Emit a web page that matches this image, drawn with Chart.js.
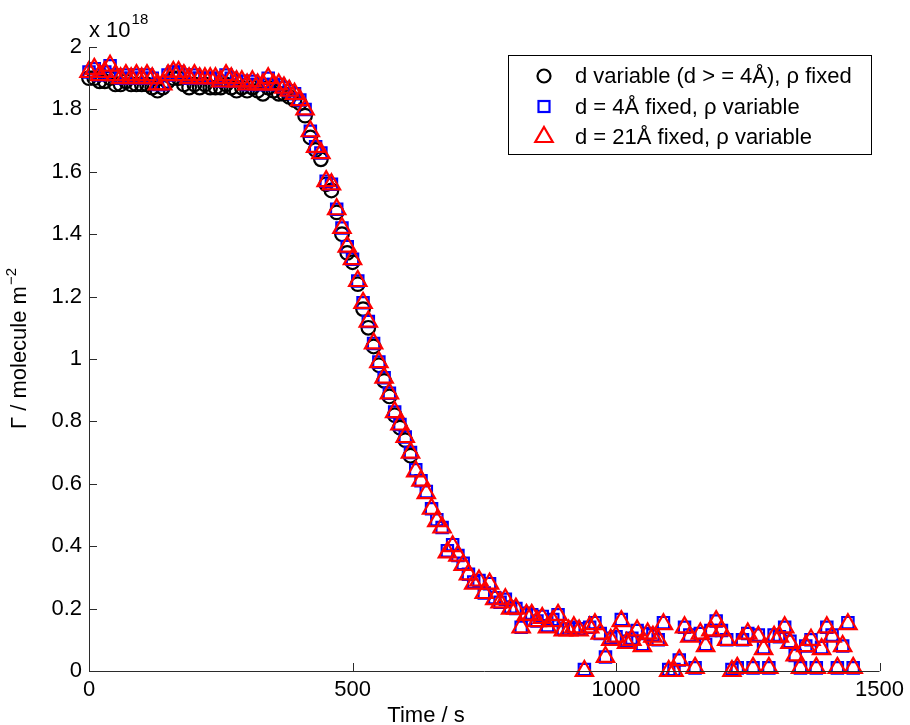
<!DOCTYPE html>
<html>
<head>
<meta charset="utf-8">
<script src="https://cdn.jsdelivr.net/npm/chart.js@4.4.1/dist/chart.umd.min.js"></script>
<style>
  html, body { margin: 0; padding: 0; background: #fff; }
  #wrap { width: 910px; height: 725px; }
</style>
</head>
<body>
<div id="wrap"><canvas id="gammaChart" width="910" height="725"></canvas></div>
<script>
// time axis (s), one sample every ~10 s
const times = [
  0, 10, 20, 30, 40, 50, 60, 70, 80, 90,
  100, 110, 120, 130, 140, 150, 160, 170, 180, 190,
  200, 210, 220, 230, 240, 250, 260, 270, 280, 290,
  300, 310, 320, 330, 340, 350, 360, 370, 380, 390,
  400, 410, 420, 430, 440, 450, 460, 470, 480, 490,
  500, 510, 520, 530, 540, 550, 560, 570, 580, 590,
  600, 610, 620, 630, 640, 650, 660, 670, 680, 690,
  700, 710, 720, 730, 740, 750, 760, 770, 780, 790,
  800, 810, 820, 830, 840, 850, 860, 870, 880, 890,
  900, 910, 920, 930, 940, 950, 960, 970, 980, 990,
  1000, 1010, 1020, 1030, 1040, 1050, 1060, 1070, 1080, 1090,
  1100, 1110, 1120, 1130, 1140, 1150, 1160, 1170, 1180, 1190,
  1200, 1210, 1220, 1230, 1240, 1250, 1260, 1270, 1280, 1290,
  1300, 1310, 1320, 1330, 1340, 1350, 1360, 1370, 1380, 1390,
  1400, 1410, 1420, 1430, 1440, 1450
];

// Gamma in units of 1e18 molecule m^-2
// d variable (d >= 4 A), rho fixed  -- only fitted up to ~610 s
const dVariable = [
  1.90, 1.90, 1.89, 1.89, 1.90, 1.88, 1.88, 1.89, 1.88, 1.88,
  1.88, 1.88, 1.87, 1.86, 1.87, 1.89, 1.90, 1.90, 1.88, 1.87,
  1.88, 1.87, 1.88, 1.87, 1.87, 1.87, 1.88, 1.87, 1.86, 1.87,
  1.86, 1.87, 1.86, 1.85, 1.87, 1.86, 1.85, 1.85, 1.84, 1.83,
  1.82, 1.78, 1.71, 1.67, 1.64, 1.56, 1.54, 1.47, 1.40, 1.34,
  1.31, 1.24, 1.16, 1.10, 1.04, 0.98, 0.93, 0.88, 0.82, 0.78,
  0.74, 0.69
];

// d = 4 A fixed, rho variable
const d4Fixed = [
  1.92, 1.93, 1.91, 1.92, 1.94, 1.91, 1.90, 1.91, 1.90, 1.91,
  1.90, 1.91, 1.90, 1.88, 1.88, 1.91, 1.92, 1.92, 1.91, 1.90,
  1.91, 1.90, 1.90, 1.90, 1.90, 1.89, 1.91, 1.90, 1.89, 1.89,
  1.88, 1.89, 1.88, 1.88, 1.90, 1.88, 1.88, 1.87, 1.86, 1.85,
  1.83, 1.80, 1.73, 1.68, 1.66, 1.57, 1.56, 1.48, 1.42, 1.36,
  1.32, 1.25, 1.18, 1.12, 1.05, 0.99, 0.94, 0.89, 0.83, 0.79,
  0.75, 0.70, 0.645, 0.61, 0.575, 0.52, 0.485, 0.46, 0.385, 0.405,
  0.37, 0.345, 0.31, 0.285, 0.29, 0.25, 0.28, 0.235, 0.22, 0.23,
  0.205, 0.20, 0.14, 0.185, 0.18, 0.16, 0.175, 0.145, 0.165, 0.18,
  0.135, 0.135, 0.14, 0.135, 0.005, 0.14, 0.155, 0.12, 0.045, 0.105,
  0.11, 0.165, 0.095, 0.105, 0.13, 0.085, 0.12, 0.115, 0.10, 0.155,
  0.005, 0.005, 0.035, 0.14, 0.115, 0.01, 0.12, 0.085, 0.13, 0.16,
  0.13, 0.10, 0.005, 0.01, 0.10, 0.12, 0.01, 0.115, 0.075, 0.01,
  0.115, 0.11, 0.14, 0.095, 0.05, 0.01, 0.08, 0.10, 0.01, 0.075,
  0.14, 0.115, 0.01, 0.08, 0.155, 0.01
];

// d = 21 A fixed, rho variable
const d21Fixed = [
  1.92, 1.93, 1.91, 1.92, 1.94, 1.91, 1.90, 1.91, 1.90, 1.91,
  1.90, 1.91, 1.90, 1.88, 1.88, 1.91, 1.92, 1.92, 1.91, 1.90,
  1.91, 1.90, 1.90, 1.90, 1.90, 1.89, 1.91, 1.90, 1.89, 1.89,
  1.88, 1.89, 1.88, 1.88, 1.90, 1.88, 1.88, 1.87, 1.86, 1.85,
  1.83, 1.80, 1.73, 1.68, 1.66, 1.57, 1.56, 1.48, 1.42, 1.36,
  1.32, 1.25, 1.18, 1.12, 1.05, 0.99, 0.94, 0.89, 0.83, 0.79,
  0.75, 0.70, 0.64, 0.61, 0.57, 0.52, 0.48, 0.46, 0.38, 0.40,
  0.37, 0.34, 0.31, 0.28, 0.29, 0.25, 0.28, 0.23, 0.22, 0.23,
  0.20, 0.20, 0.14, 0.18, 0.18, 0.16, 0.17, 0.14, 0.16, 0.18,
  0.13, 0.13, 0.14, 0.13, 0.00, 0.14, 0.15, 0.12, 0.045, 0.10,
  0.11, 0.16, 0.09, 0.10, 0.13, 0.08, 0.12, 0.11, 0.10, 0.15,
  0.00, 0.00, 0.035, 0.14, 0.11, 0.01, 0.12, 0.08, 0.13, 0.16,
  0.13, 0.10, 0.00, 0.01, 0.10, 0.12, 0.01, 0.11, 0.07, 0.01,
  0.11, 0.11, 0.14, 0.09, 0.05, 0.01, 0.08, 0.10, 0.01, 0.07,
  0.14, 0.11, 0.01, 0.08, 0.15, 0.01
];

const xTicks = [0, 500, 1000, 1500];
const yTicks = [0, 0.2, 0.4, 0.6, 0.8, 1, 1.2, 1.4, 1.6, 1.8, 2];
const seriesLabels = [
  'd variable (d > = 4Å), ρ fixed',
  'd = 4Å fixed, ρ variable',
  'd = 21Å fixed, ρ variable'
];

const FONT = '"Liberation Sans", Arial, Helvetica, sans-serif';

function toPoints(vals) {
  return vals.map((v, i) => ({ x: times[i], y: v }));
}

// MATLAB-ish axes: left + bottom spines, inward ticks, exponent, titles, boxed legend
const matlabAxes = {
  id: 'matlabAxes',
  afterDraw(chart) {
    const ctx = chart.ctx;
    const a = chart.chartArea;
    const xs = chart.scales.x, ys = chart.scales.y;
    ctx.save();
    ctx.strokeStyle = '#2b2b2b';
    ctx.lineWidth = 1;
    ctx.beginPath();
    ctx.moveTo(a.left + 0.5, a.top);
    ctx.lineTo(a.left + 0.5, a.bottom + 0.5);
    ctx.lineTo(a.right, a.bottom + 0.5);
    xTicks.forEach(t => {
      const px = Math.round(xs.getPixelForValue(t)) + 0.5;
      ctx.moveTo(px, a.bottom);
      ctx.lineTo(px, a.bottom - 8);
    });
    yTicks.forEach(t => {
      const py = Math.round(ys.getPixelForValue(t)) + 0.5;
      ctx.moveTo(a.left, py);
      ctx.lineTo(a.left + 8, py);
    });
    ctx.stroke();

    ctx.fillStyle = '#000';
    // exponent label
    ctx.font = '22px ' + FONT;
    ctx.textAlign = 'left';
    ctx.textBaseline = 'alphabetic';
    ctx.fillText('x 10', 89, 37);
    const w10 = ctx.measureText('x 10').width;
    ctx.font = '15px ' + FONT;
    ctx.fillText('18', 89 + w10 + 1, 24);

    // x title
    ctx.font = '22px ' + FONT;
    ctx.textAlign = 'center';
    ctx.fillText('Time / s', 426, 722);

    // y title (rotated, with superscript)
    ctx.save();
    ctx.translate(26, (a.top + a.bottom) / 2 - 10);
    ctx.rotate(-Math.PI / 2);
    ctx.font = '22px ' + FONT;
    const mainTxt = 'Γ / molecule m';
    const mw = ctx.measureText(mainTxt).width;
    ctx.font = '15px ' + FONT;
    const sw = ctx.measureText('−2').width;
    const x0 = -(mw + sw) / 2;
    ctx.textAlign = 'left';
    ctx.font = '22px ' + FONT;
    ctx.fillText(mainTxt, x0, 0);
    ctx.font = '15px ' + FONT;
    ctx.fillText('−2', x0 + mw + 1, -10);
    ctx.restore();

    // legend box
    const lx = 508.5, ly = 55.5, lw = 363, lh = 99;
    ctx.fillStyle = '#fff';
    ctx.fillRect(lx, ly, lw, lh);
    ctx.strokeStyle = '#000';
    ctx.lineWidth = 1;
    ctx.strokeRect(lx, ly, lw, lh);
    const rows = [76, 106.5, 136.5];
    const mx = 544;
    ctx.lineWidth = 2.2;
    // circle
    ctx.strokeStyle = '#000';
    ctx.beginPath();
    ctx.arc(mx, rows[0], 6.5, 0, Math.PI * 2);
    ctx.stroke();
    // square
    ctx.strokeStyle = '#0000ff';
    ctx.strokeRect(mx - 5.5, rows[1] - 5.5, 11, 11);
    // triangle
    ctx.strokeStyle = '#ff0000';
    ctx.beginPath();
    ctx.moveTo(mx, rows[2] - 9.5);
    ctx.lineTo(mx + 8.7, rows[2] + 5.5);
    ctx.lineTo(mx - 8.7, rows[2] + 5.5);
    ctx.closePath();
    ctx.stroke();
    ctx.fillStyle = '#000';
    ctx.font = '22px ' + FONT;
    ctx.textAlign = 'left';
    ctx.textBaseline = 'middle';
    seriesLabels.forEach((s, i) => ctx.fillText(s, 575, rows[i] + 1));
    ctx.restore();
  }
};

const ctxEl = document.getElementById('gammaChart');
new Chart(ctxEl, {
  type: 'scatter',
  data: {
    datasets: [
      {
        label: seriesLabels[2],
        data: toPoints(d21Fixed),
        pointStyle: 'triangle',
        pointRadius: 10,
        pointBorderWidth: 2.2,
        borderColor: '#ff0000',
        backgroundColor: 'rgba(0,0,0,0)',
        clip: false
      },
      {
        label: seriesLabels[1],
        data: toPoints(d4Fixed),
        pointStyle: 'rect',
        pointRadius: 8,
        pointBorderWidth: 2.2,
        borderColor: '#0000ff',
        backgroundColor: 'rgba(0,0,0,0)',
        clip: false
      },
      {
        label: seriesLabels[0],
        data: toPoints(dVariable),
        pointStyle: 'circle',
        pointRadius: 6.8,
        pointBorderWidth: 2.2,
        borderColor: '#000000',
        backgroundColor: 'rgba(0,0,0,0)',
        clip: false
      }
    ]
  },
  options: {
    responsive: false,
    animation: false,
    devicePixelRatio: 1,
    layout: { padding: { top: 47, right: 30, bottom: 0, left: 0 } },
    plugins: {
      legend: { display: false },
      tooltip: { enabled: false }
    },
    scales: {
      x: {
        type: 'linear',
        min: 0,
        max: 1500,
        afterFit: s => { s.height = 54; },
        afterBuildTicks: s => { s.ticks = xTicks.map(v => ({ value: v })); },
        grid: { display: false, drawTicks: false },
        border: { display: false },
        ticks: {
          padding: 6,
          color: '#000',
          font: { family: FONT, size: 22 },
          maxRotation: 0,
          callback: v => String(v)
        }
      },
      y: {
        type: 'linear',
        min: 0,
        max: 2,
        afterFit: s => { s.width = 89; },
        afterBuildTicks: s => { s.ticks = yTicks.map(v => ({ value: v })); },
        grid: { display: false, drawTicks: false },
        border: { display: false },
        ticks: {
          padding: 7,
          color: '#000',
          font: { family: FONT, size: 22 },
          callback: v => String(+v.toFixed(1))
        }
      }
    }
  },
  plugins: [matlabAxes]
});
</script>
</body>
</html>
